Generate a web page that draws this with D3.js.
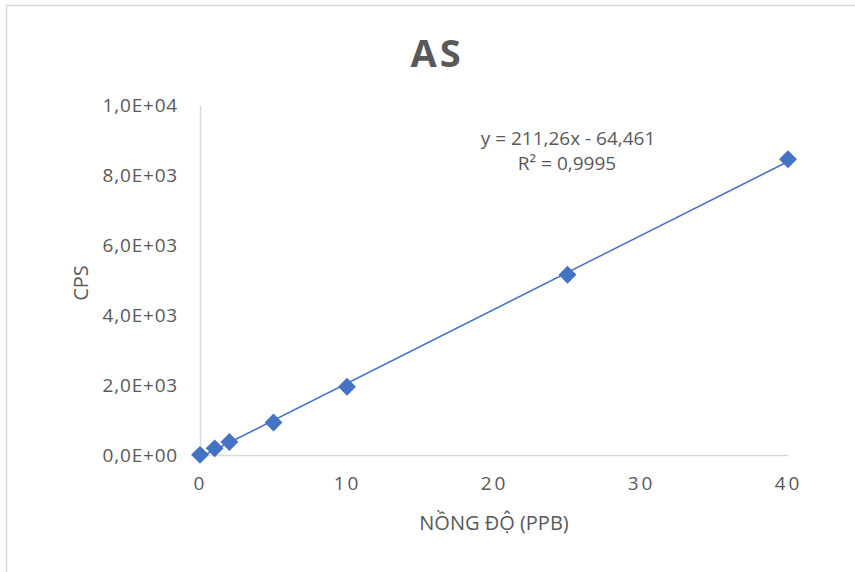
<!DOCTYPE html>
<html>
<head>
<meta charset="utf-8">
<script src="https://cdn.jsdelivr.net/npm/d3@7"></script>
<style>
  body { margin: 0; background: #fff; }
  text { font-family: "Open Sans", "Noto Sans", sans-serif; fill: #595959; }
</style>
</head>
<body>
<div id="chart"></div>
<script>
// concentration (ppb) and measured counts
const concentrations = [0, 1, 2, 5, 10, 25, 40];
const cps = [5, 190, 370, 930, 1950, 5150, 8450];
const yTicks = [0, 2000, 4000, 6000, 8000, 10000];
const xTicks = [0, 10, 20, 30, 40];
const slope = 211.26, intercept = -64.461, r2 = 0.9995;

const width = 855, height = 572;
const margin = {top: 105, right: 67, bottom: 117, left: 200};

const svg = d3.select("#chart").append("svg")
    .attr("width", width)
    .attr("height", height);

// chart frame (clipped on right/bottom like the original)
svg.append("path")
    .attr("d", "M6.5,572 V5.5 H855")
    .attr("fill", "none")
    .attr("stroke", "#d9d9d9")
    .attr("stroke-width", 1.5);

const x = d3.scaleLinear().domain([0, 40]).range([margin.left, width - margin.right]);
const y = d3.scaleLinear().domain([0, 10000]).range([height - margin.bottom, margin.top]);

const fmt = v => {
    const s = v.toExponential(1).replace(".", ",").toUpperCase();
    return s.replace(/E([+-])(\d)$/, "E$10$2");
};

// axes
const yAxis = svg.append("g")
    .attr("transform", "translate(" + margin.left + ",0)")
    .call(d3.axisLeft(y).tickValues(yTicks).tickFormat(fmt).tickSize(0).tickPadding(22));
yAxis.select(".domain").attr("stroke", "#d9d9d9").attr("stroke-width", 1.5);
yAxis.selectAll("text").style("font-size", "19px").style("letter-spacing", "0.8px").attr("fill", "#595959");

const xAxis = svg.append("g")
    .attr("transform", "translate(0," + y(0) + ")")
    .call(d3.axisBottom(x).tickValues(xTicks).tickFormat(d3.format("d")).tickSize(0).tickPadding(22));
xAxis.select(".domain").attr("stroke", "#d9d9d9").attr("stroke-width", 1.5);
xAxis.selectAll("text").style("font-size", "19px").style("letter-spacing", "3px").attr("fill", "#595959");

// trendline
svg.append("line")
    .attr("x1", x(0)).attr("y1", y(slope * 0 + intercept))
    .attr("x2", x(40)).attr("y2", y(slope * 40 + intercept))
    .attr("stroke", "#4472c4")
    .attr("stroke-width", 1.5);

// markers
const diamond = d3.symbol().type(d3.symbolSquare).size(160);
svg.append("g").selectAll("path")
    .data(concentrations.map((c, i) => [c, cps[i]]))
    .join("path")
    .attr("d", diamond)
    .attr("transform", d => "translate(" + x(d[0]) + "," + y(d[1]) + ") rotate(45)")
    .attr("fill", "#4472c4");

// title
svg.append("text")
    .attr("x", 437).attr("y", 67)
    .attr("text-anchor", "middle")
    .style("font-size", "38px")
    .style("font-weight", "bold")
    .style("letter-spacing", "3px")
    .text("AS");

// equation
const fmtNum = v => String(v).replace(".", ",");
svg.append("text")
    .attr("x", 568).attr("y", 145)
    .attr("text-anchor", "middle")
    .style("font-size", "19px")
    .text("y = " + fmtNum(slope) + "x - " + fmtNum(-intercept));
svg.append("text")
    .attr("x", 567).attr("y", 170)
    .attr("text-anchor", "middle")
    .style("font-size", "19px")
    .text("R² = " + fmtNum(r2));

// axis titles
svg.append("text")
    .attr("transform", "translate(88,283) rotate(-90)")
    .attr("text-anchor", "middle")
    .style("font-size", "20px")
    .text("CPS");
svg.append("text")
    .attr("x", 494).attr("y", 530)
    .attr("text-anchor", "middle")
    .style("font-size", "20px")
    .text("NỒNG ĐỘ (PPB)");
</script>
</body>
</html>
